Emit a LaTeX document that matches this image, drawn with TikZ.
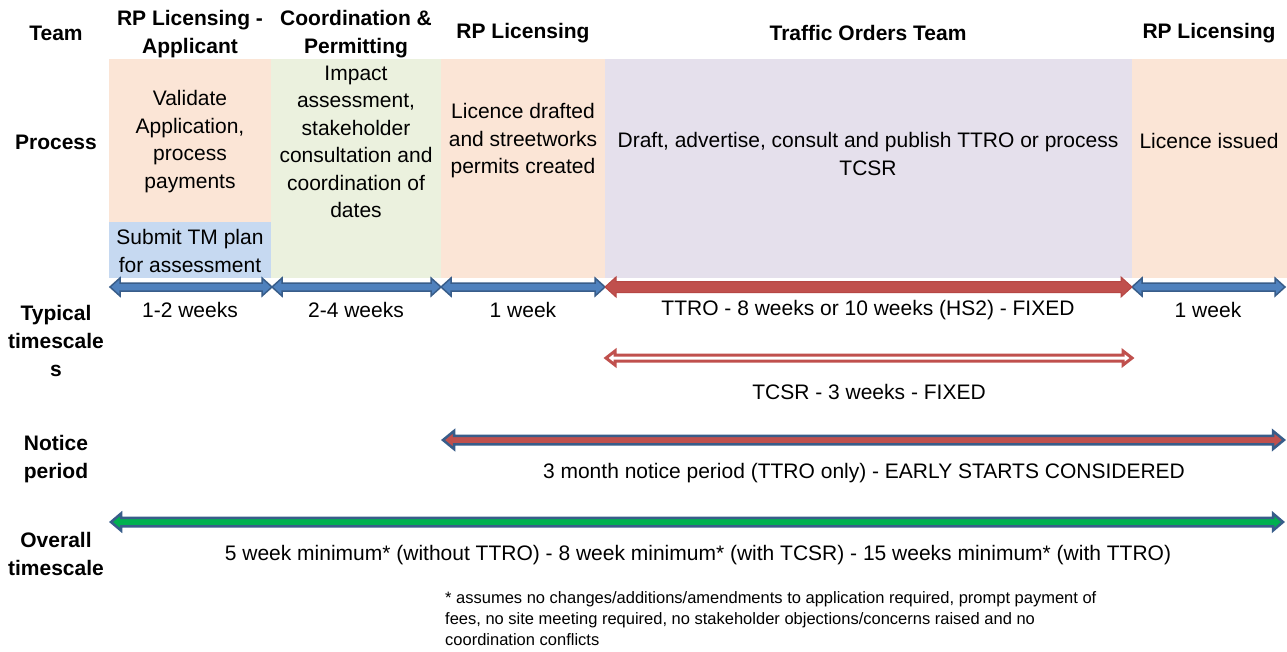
\documentclass[tikz,border=0pt]{standalone}
\usepackage{fontspec}
\setmainfont{Liberation Sans}
\usetikzlibrary{calc}
\definecolor{peach}{HTML}{FBE5D6}
\definecolor{olivel}{HTML}{EBF1DE}
\definecolor{lav}{HTML}{E5E0EC}
\definecolor{lblue}{HTML}{C6D9F1}
\definecolor{abl}{HTML}{4F81BD}
\definecolor{abd}{HTML}{385D8A}
\definecolor{ared}{HTML}{C0504D}
\definecolor{aredd}{HTML}{B64744}
\definecolor{agreen}{HTML}{00B050}
% block arrow: style, left coord, right coord, half shaft, half head, head length
\newcommand\blkarrow[6]{%
  \draw[#1] (#2) -- ($(#2)+(#6,#5)$) -- ($(#2)+(#6,#4)$) -- ($(#3)+(-#6,#4)$)
    -- ($(#3)+(-#6,#5)$) -- (#3) -- ($(#3)+(-#6,-#5)$) -- ($(#3)+(-#6,-#4)$)
    -- ($(#2)+(#6,-#4)$) -- ($(#2)+(#6,-#5)$) -- cycle;}
\begin{document}
\begin{tikzpicture}[x=1pt,y=-1pt,
  hdr/.style={font=\bfseries\fontsize{21}{28}\selectfont, align=center, inner sep=0pt},
  txt/.style={font=\fontsize{21}{27.5}\selectfont, align=center, inner sep=0pt},
  note/.style={font=\fontsize{16.5}{21}\selectfont, align=left, inner sep=0pt, anchor=west},
  bluearrow/.style={fill=abl, draw=abd, line width=1.5pt, line join=miter},
  redarrow/.style={fill=ared, draw=aredd, line width=1pt, line join=miter},
  hollowarrow/.style={fill=white, draw=ared, line width=3pt, line join=miter},
  noticearrow/.style={fill=ared, draw=abd, line width=2.5pt, line join=miter},
  greenarrow/.style={fill=agreen, draw=abd, line width=2.5pt, line join=miter}]
\useasboundingbox[fill=white] (0,0) rectangle (1287,651);

% coloured boxes
\fill[peach] (109,59) rectangle (271,222);
\fill[lblue] (109,222) rectangle (271,278);
\fill[olivel] (271,59) rectangle (441,278);
\fill[peach] (441,59) rectangle (605,278);
\fill[lav] (605,59) rectangle (1132,278);
\fill[peach] (1132,59) rectangle (1287,278);

% row labels
\node[hdr] (lteam) at (56,33) {Team};
\node[hdr] (lproc) at (56,142) {Process};
\node[hdr] (ltyp) at (56,341) {Typical\\timescale\\s};
\node[hdr] (lnot) at (56,459.5) {Notice\\period};
\node[hdr] (lover) at (56,553.5) {Overall\\timescale};

% column headers
\node[hdr] (h1) at (190,34) {RP Licensing -\\Applicant};
\node[hdr] (h2) at (356,34) {Coordination \&\\Permitting};
\node[hdr] (h3) at (523,33) {RP Licensing};
\node[hdr] (h4) at (868,33) {Traffic Orders Team};
\node[hdr] (h5) at (1209,33) {RP Licensing};

% process texts
\node[txt] (p1) at (190,141.5) {Validate\\Application,\\process\\payments};
\node[txt] (p1b) at (190,251) {Submit TM plan\\for assessment};
\node[txt] (p2) at (356,142) {Impact\\assessment,\\stakeholder\\consultation and\\coordination of\\dates};
\node[txt] (p3) at (523,141) {Licence drafted\\and streetworks\\permits created};
\node[txt] (p4) at (868,154) {Draft, advertise, consult and publish TTRO or process\\TCSR};
\node[txt] (p5) at (1209,141) {Licence issued};

% timescale arrows
\coordinate (a0) at (110,287);
\coordinate (a1) at (272,287);
\coordinate (a2) at (441,287);
\coordinate (a3) at (605,287);
\coordinate (a4) at (1132,287);
\coordinate (a5) at (1285,287);
\blkarrow{bluearrow}{a0}{a1}{4}{9}{10}
\blkarrow{bluearrow}{a1}{a2}{4}{9}{10}
\blkarrow{bluearrow}{a2}{a3}{4}{9}{10}
\blkarrow{bluearrow}{a4}{a5}{4}{9}{10}
\blkarrow{redarrow}{a3}{a4}{5.5}{10}{11}

\node[txt] (t1) at (190,310) {1-2 weeks};
\node[txt] (t2) at (356,310) {2-4 weeks};
\node[txt] (t3) at (523,310) {1 week};
\node[txt] (t4) at (868,310) {TTRO - 8 weeks or 10 weeks (HS2) - FIXED};
\node[txt] (t5) at (1208,310) {1 week};

% TCSR
\coordinate (c0) at (606,358);
\coordinate (c1) at (1132,358);
\blkarrow{hollowarrow}{c0}{c1}{3}{7}{9}
\node[txt] (tc) at (869,392) {TCSR - 3 weeks - FIXED};

% notice period
\coordinate (n0) at (443,440);
\coordinate (n1) at (1284,440);
\blkarrow{noticearrow}{n0}{n1}{4.25}{9}{11}
\node[txt] (tn) at (864,473) {3 month notice period (TTRO only) - EARLY STARTS CONSIDERED};

% overall
\coordinate (o0) at (111,522);
\coordinate (o1) at (1283,522);
\blkarrow{greenarrow}{o0}{o1}{4.25}{8.5}{10}
\node[txt] (to) at (698,555) {5 week minimum* (without TTRO) - 8 week minimum* (with TCSR) - 15 weeks minimum* (with TTRO)};

% footnote
\node[note] (fn) at (445,619) {* assumes no changes/additions/amendments to application required, prompt payment of\\fees, no site meeting required, no stakeholder objections/concerns raised and no\\coordination conflicts};
\end{tikzpicture}
\end{document}
